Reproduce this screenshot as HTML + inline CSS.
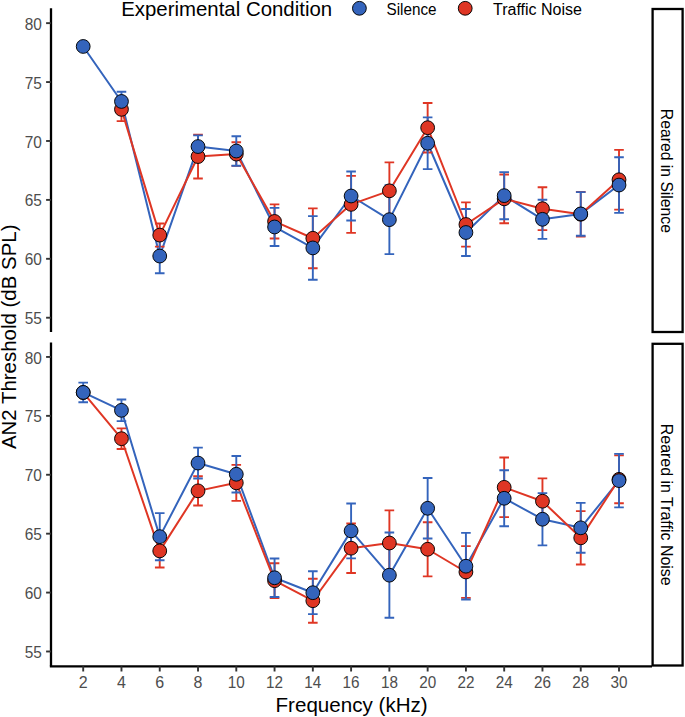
<!DOCTYPE html>
<html><head><meta charset="utf-8"><title>AN2 Threshold</title>
<style>
html,body{margin:0;padding:0;background:#fff;}
body{width:685px;height:717px;overflow:hidden;}
svg{display:block;font-family:"Liberation Sans",sans-serif;}
</style></head><body>
<svg width="685" height="717" viewBox="0 0 685 717">
<rect width="685" height="717" fill="#fff"/>
<g id="panel-top">
<polyline points="83.20,46.47 121.47,101.45 159.74,256.05 198.02,146.55 236.29,151.03 274.56,226.97 312.83,247.93 351.10,196.00 389.38,219.67 427.65,143.25 465.92,232.51 504.19,195.65 542.46,219.32 580.74,213.90 619.01,185.05" fill="none" stroke="#3464bc" stroke-width="2.0" stroke-linejoin="round"/>
<polyline points="121.47,109.34 159.74,235.10 198.02,156.56 236.29,154.09 274.56,221.44 312.83,238.27 351.10,204.36 389.38,190.82 427.65,127.71 465.92,224.50 504.19,198.83 542.46,208.72 580.74,214.25 619.01,179.76" fill="none" stroke="#df3624" stroke-width="2.0" stroke-linejoin="round"/>
<path d="M116.67,97.57H126.27M121.47,97.57V121.12M116.67,121.12H126.27" fill="none" stroke="#df3624" stroke-width="1.9"/>
<path d="M116.67,91.68H126.27M121.47,91.68V111.23M116.67,111.23H126.27" fill="none" stroke="#3464bc" stroke-width="1.9"/>
<path d="M154.94,223.56H164.54M159.74,223.56V246.63M154.94,246.63H164.54" fill="none" stroke="#df3624" stroke-width="1.9"/>
<path d="M154.94,238.86H164.54M159.74,238.86V273.25M154.94,273.25H164.54" fill="none" stroke="#3464bc" stroke-width="1.9"/>
<path d="M193.22,134.66H202.82M198.02,134.66V178.46M193.22,178.46H202.82" fill="none" stroke="#df3624" stroke-width="1.9"/>
<path d="M193.22,135.37H202.82M198.02,135.37V157.74M193.22,157.74H202.82" fill="none" stroke="#3464bc" stroke-width="1.9"/>
<path d="M231.49,142.31H241.09M236.29,142.31V165.86M231.49,165.86H241.09" fill="none" stroke="#df3624" stroke-width="1.9"/>
<path d="M231.49,136.31H241.09M236.29,136.31V165.74M231.49,165.74H241.09" fill="none" stroke="#3464bc" stroke-width="1.9"/>
<path d="M269.76,204.36H279.36M274.56,204.36V238.51M269.76,238.51H279.36" fill="none" stroke="#df3624" stroke-width="1.9"/>
<path d="M269.76,207.90H279.36M274.56,207.90V246.05M269.76,246.05H279.36" fill="none" stroke="#3464bc" stroke-width="1.9"/>
<path d="M308.03,208.37H317.63M312.83,208.37V268.18M308.03,268.18H317.63" fill="none" stroke="#df3624" stroke-width="1.9"/>
<path d="M308.03,216.14H317.63M312.83,216.14V279.72M308.03,279.72H317.63" fill="none" stroke="#3464bc" stroke-width="1.9"/>
<path d="M346.30,175.87H355.90M351.10,175.87V232.86M346.30,232.86H355.90" fill="none" stroke="#df3624" stroke-width="1.9"/>
<path d="M346.30,171.51H355.90M351.10,171.51V220.50M346.30,220.50H355.90" fill="none" stroke="#3464bc" stroke-width="1.9"/>
<path d="M384.58,162.33H394.18M389.38,162.33V219.32M384.58,219.32H394.18" fill="none" stroke="#df3624" stroke-width="1.9"/>
<path d="M384.58,185.17H394.18M389.38,185.17V254.17M384.58,254.17H394.18" fill="none" stroke="#3464bc" stroke-width="1.9"/>
<path d="M422.85,102.99H432.45M427.65,102.99V152.44M422.85,152.44H432.45" fill="none" stroke="#df3624" stroke-width="1.9"/>
<path d="M422.85,117.35H432.45M427.65,117.35V169.16M422.85,169.16H432.45" fill="none" stroke="#3464bc" stroke-width="1.9"/>
<path d="M461.12,202.36H470.72M465.92,202.36V246.63M461.12,246.63H470.72" fill="none" stroke="#df3624" stroke-width="1.9"/>
<path d="M461.12,208.96H470.72M465.92,208.96V256.05M461.12,256.05H470.72" fill="none" stroke="#3464bc" stroke-width="1.9"/>
<path d="M499.39,174.46H508.99M504.19,174.46V223.20M499.39,223.20H508.99" fill="none" stroke="#df3624" stroke-width="1.9"/>
<path d="M499.39,172.10H508.99M504.19,172.10V219.20M499.39,219.20H508.99" fill="none" stroke="#3464bc" stroke-width="1.9"/>
<path d="M537.66,187.29H547.26M542.46,187.29V230.15M537.66,230.15H547.26" fill="none" stroke="#df3624" stroke-width="1.9"/>
<path d="M537.66,199.77H547.26M542.46,199.77V238.86M537.66,238.86H547.26" fill="none" stroke="#3464bc" stroke-width="1.9"/>
<path d="M575.94,191.88H585.54M580.74,191.88V236.63M575.94,236.63H585.54" fill="none" stroke="#df3624" stroke-width="1.9"/>
<path d="M575.94,192.12H585.54M580.74,192.12V235.68M575.94,235.68H585.54" fill="none" stroke="#3464bc" stroke-width="1.9"/>
<path d="M614.21,149.85H623.81M619.01,149.85V209.66M614.21,209.66H623.81" fill="none" stroke="#df3624" stroke-width="1.9"/>
<path d="M614.21,157.27H623.81M619.01,157.27V212.84M614.21,212.84H623.81" fill="none" stroke="#3464bc" stroke-width="1.9"/>
<circle cx="83.20" cy="46.47" r="6.9" fill="#3464bc" stroke="#000" stroke-width="0.95"/>
<circle cx="121.47" cy="109.34" r="6.9" fill="#df3624" stroke="#000" stroke-width="0.95"/>
<circle cx="121.47" cy="101.45" r="6.9" fill="#3464bc" stroke="#000" stroke-width="0.95"/>
<circle cx="159.74" cy="235.10" r="6.9" fill="#df3624" stroke="#000" stroke-width="0.95"/>
<circle cx="159.74" cy="256.05" r="6.9" fill="#3464bc" stroke="#000" stroke-width="0.95"/>
<circle cx="198.02" cy="156.56" r="6.9" fill="#df3624" stroke="#000" stroke-width="0.95"/>
<circle cx="198.02" cy="146.55" r="6.9" fill="#3464bc" stroke="#000" stroke-width="0.95"/>
<circle cx="236.29" cy="154.09" r="6.9" fill="#df3624" stroke="#000" stroke-width="0.95"/>
<circle cx="236.29" cy="151.03" r="6.9" fill="#3464bc" stroke="#000" stroke-width="0.95"/>
<circle cx="274.56" cy="221.44" r="6.9" fill="#df3624" stroke="#000" stroke-width="0.95"/>
<circle cx="274.56" cy="226.97" r="6.9" fill="#3464bc" stroke="#000" stroke-width="0.95"/>
<circle cx="312.83" cy="238.27" r="6.9" fill="#df3624" stroke="#000" stroke-width="0.95"/>
<circle cx="312.83" cy="247.93" r="6.9" fill="#3464bc" stroke="#000" stroke-width="0.95"/>
<circle cx="351.10" cy="204.36" r="6.9" fill="#df3624" stroke="#000" stroke-width="0.95"/>
<circle cx="351.10" cy="196.00" r="6.9" fill="#3464bc" stroke="#000" stroke-width="0.95"/>
<circle cx="389.38" cy="190.82" r="6.9" fill="#df3624" stroke="#000" stroke-width="0.95"/>
<circle cx="389.38" cy="219.67" r="6.9" fill="#3464bc" stroke="#000" stroke-width="0.95"/>
<circle cx="427.65" cy="127.71" r="6.9" fill="#df3624" stroke="#000" stroke-width="0.95"/>
<circle cx="427.65" cy="143.25" r="6.9" fill="#3464bc" stroke="#000" stroke-width="0.95"/>
<circle cx="465.92" cy="224.50" r="6.9" fill="#df3624" stroke="#000" stroke-width="0.95"/>
<circle cx="465.92" cy="232.51" r="6.9" fill="#3464bc" stroke="#000" stroke-width="0.95"/>
<circle cx="504.19" cy="198.83" r="6.9" fill="#df3624" stroke="#000" stroke-width="0.95"/>
<circle cx="504.19" cy="195.65" r="6.9" fill="#3464bc" stroke="#000" stroke-width="0.95"/>
<circle cx="542.46" cy="208.72" r="6.9" fill="#df3624" stroke="#000" stroke-width="0.95"/>
<circle cx="542.46" cy="219.32" r="6.9" fill="#3464bc" stroke="#000" stroke-width="0.95"/>
<circle cx="580.74" cy="214.25" r="6.9" fill="#df3624" stroke="#000" stroke-width="0.95"/>
<circle cx="580.74" cy="213.90" r="6.9" fill="#3464bc" stroke="#000" stroke-width="0.95"/>
<circle cx="619.01" cy="179.76" r="6.9" fill="#df3624" stroke="#000" stroke-width="0.95"/>
<circle cx="619.01" cy="185.05" r="6.9" fill="#3464bc" stroke="#000" stroke-width="0.95"/>
</g>
<g id="panel-bottom">
<polyline points="83.20,392.42 121.47,410.32 159.74,536.66 198.02,463.07 236.29,474.26 274.56,577.76 312.83,592.71 351.10,530.89 389.38,575.17 427.65,508.29 465.92,566.22 504.19,498.28 542.46,519.24 580.74,527.83 619.01,480.62" fill="none" stroke="#3464bc" stroke-width="2.0" stroke-linejoin="round"/>
<polyline points="83.20,392.54 121.47,438.70 159.74,550.91 198.02,490.86 236.29,482.85 274.56,580.70 312.83,600.72 351.10,548.20 389.38,543.02 427.65,549.26 465.92,571.99 504.19,487.33 542.46,501.22 580.74,537.84 619.01,479.32" fill="none" stroke="#df3624" stroke-width="2.0" stroke-linejoin="round"/>
<path d="M78.40,382.65H88.00M83.20,382.65V402.20M78.40,402.20H88.00" fill="none" stroke="#3464bc" stroke-width="1.9"/>
<path d="M116.67,428.34H126.27M121.47,428.34V449.06M116.67,449.06H126.27" fill="none" stroke="#df3624" stroke-width="1.9"/>
<path d="M116.67,399.49H126.27M121.47,399.49V421.15M116.67,421.15H126.27" fill="none" stroke="#3464bc" stroke-width="1.9"/>
<path d="M154.94,534.31H164.54M159.74,534.31V567.51M154.94,567.51H164.54" fill="none" stroke="#df3624" stroke-width="1.9"/>
<path d="M154.94,513.11H164.54M159.74,513.11V560.21M154.94,560.21H164.54" fill="none" stroke="#3464bc" stroke-width="1.9"/>
<path d="M193.22,476.26H202.82M198.02,476.26V505.46M193.22,505.46H202.82" fill="none" stroke="#df3624" stroke-width="1.9"/>
<path d="M193.22,447.65H202.82M198.02,447.65V478.50M193.22,478.50H202.82" fill="none" stroke="#3464bc" stroke-width="1.9"/>
<path d="M231.49,464.84H241.09M236.29,464.84V500.87M231.49,500.87H241.09" fill="none" stroke="#df3624" stroke-width="1.9"/>
<path d="M231.49,456.01H241.09M236.29,456.01V492.51M231.49,492.51H241.09" fill="none" stroke="#3464bc" stroke-width="1.9"/>
<path d="M269.76,563.27H279.36M274.56,563.27V598.13M269.76,598.13H279.36" fill="none" stroke="#df3624" stroke-width="1.9"/>
<path d="M269.76,558.56H279.36M274.56,558.56V596.95M269.76,596.95H279.36" fill="none" stroke="#3464bc" stroke-width="1.9"/>
<path d="M308.03,578.70H317.63M312.83,578.70V622.73M308.03,622.73H317.63" fill="none" stroke="#df3624" stroke-width="1.9"/>
<path d="M308.03,571.28H317.63M312.83,571.28V614.14M308.03,614.14H317.63" fill="none" stroke="#3464bc" stroke-width="1.9"/>
<path d="M346.30,523.47H355.90M351.10,523.47V572.93M346.30,572.93H355.90" fill="none" stroke="#df3624" stroke-width="1.9"/>
<path d="M346.30,503.46H355.90M351.10,503.46V558.33M346.30,558.33H355.90" fill="none" stroke="#3464bc" stroke-width="1.9"/>
<path d="M384.58,510.41H394.18M389.38,510.41V575.64M384.58,575.64H394.18" fill="none" stroke="#df3624" stroke-width="1.9"/>
<path d="M384.58,532.54H394.18M389.38,532.54V617.79M384.58,617.79H394.18" fill="none" stroke="#3464bc" stroke-width="1.9"/>
<path d="M422.85,522.18H432.45M427.65,522.18V576.34M422.85,576.34H432.45" fill="none" stroke="#df3624" stroke-width="1.9"/>
<path d="M422.85,478.03H432.45M427.65,478.03V538.55M422.85,538.55H432.45" fill="none" stroke="#3464bc" stroke-width="1.9"/>
<path d="M461.12,546.08H470.72M465.92,546.08V597.89M461.12,597.89H470.72" fill="none" stroke="#df3624" stroke-width="1.9"/>
<path d="M461.12,532.89H470.72M465.92,532.89V599.54M461.12,599.54H470.72" fill="none" stroke="#3464bc" stroke-width="1.9"/>
<path d="M499.39,457.54H508.99M504.19,457.54V517.12M499.39,517.12H508.99" fill="none" stroke="#df3624" stroke-width="1.9"/>
<path d="M499.39,470.25H508.99M504.19,470.25V526.30M499.39,526.30H508.99" fill="none" stroke="#3464bc" stroke-width="1.9"/>
<path d="M537.66,478.38H547.26M542.46,478.38V524.06M537.66,524.06H547.26" fill="none" stroke="#df3624" stroke-width="1.9"/>
<path d="M537.66,493.10H547.26M542.46,493.10V545.38M537.66,545.38H547.26" fill="none" stroke="#3464bc" stroke-width="1.9"/>
<path d="M575.94,511.11H585.54M580.74,511.11V564.57M575.94,564.57H585.54" fill="none" stroke="#df3624" stroke-width="1.9"/>
<path d="M575.94,502.87H585.54M580.74,502.87V552.79M575.94,552.79H585.54" fill="none" stroke="#3464bc" stroke-width="1.9"/>
<path d="M614.21,455.42H623.81M619.01,455.42V503.22M614.21,503.22H623.81" fill="none" stroke="#df3624" stroke-width="1.9"/>
<path d="M614.21,453.89H623.81M619.01,453.89V507.34M614.21,507.34H623.81" fill="none" stroke="#3464bc" stroke-width="1.9"/>
<circle cx="83.20" cy="392.54" r="6.9" fill="#df3624" stroke="#000" stroke-width="0.95"/>
<circle cx="83.20" cy="392.42" r="6.9" fill="#3464bc" stroke="#000" stroke-width="0.95"/>
<circle cx="121.47" cy="438.70" r="6.9" fill="#df3624" stroke="#000" stroke-width="0.95"/>
<circle cx="121.47" cy="410.32" r="6.9" fill="#3464bc" stroke="#000" stroke-width="0.95"/>
<circle cx="159.74" cy="550.91" r="6.9" fill="#df3624" stroke="#000" stroke-width="0.95"/>
<circle cx="159.74" cy="536.66" r="6.9" fill="#3464bc" stroke="#000" stroke-width="0.95"/>
<circle cx="198.02" cy="490.86" r="6.9" fill="#df3624" stroke="#000" stroke-width="0.95"/>
<circle cx="198.02" cy="463.07" r="6.9" fill="#3464bc" stroke="#000" stroke-width="0.95"/>
<circle cx="236.29" cy="482.85" r="6.9" fill="#df3624" stroke="#000" stroke-width="0.95"/>
<circle cx="236.29" cy="474.26" r="6.9" fill="#3464bc" stroke="#000" stroke-width="0.95"/>
<circle cx="274.56" cy="580.70" r="6.9" fill="#df3624" stroke="#000" stroke-width="0.95"/>
<circle cx="274.56" cy="577.76" r="6.9" fill="#3464bc" stroke="#000" stroke-width="0.95"/>
<circle cx="312.83" cy="600.72" r="6.9" fill="#df3624" stroke="#000" stroke-width="0.95"/>
<circle cx="312.83" cy="592.71" r="6.9" fill="#3464bc" stroke="#000" stroke-width="0.95"/>
<circle cx="351.10" cy="548.20" r="6.9" fill="#df3624" stroke="#000" stroke-width="0.95"/>
<circle cx="351.10" cy="530.89" r="6.9" fill="#3464bc" stroke="#000" stroke-width="0.95"/>
<circle cx="389.38" cy="543.02" r="6.9" fill="#df3624" stroke="#000" stroke-width="0.95"/>
<circle cx="389.38" cy="575.17" r="6.9" fill="#3464bc" stroke="#000" stroke-width="0.95"/>
<circle cx="427.65" cy="549.26" r="6.9" fill="#df3624" stroke="#000" stroke-width="0.95"/>
<circle cx="427.65" cy="508.29" r="6.9" fill="#3464bc" stroke="#000" stroke-width="0.95"/>
<circle cx="465.92" cy="571.99" r="6.9" fill="#df3624" stroke="#000" stroke-width="0.95"/>
<circle cx="465.92" cy="566.22" r="6.9" fill="#3464bc" stroke="#000" stroke-width="0.95"/>
<circle cx="504.19" cy="487.33" r="6.9" fill="#df3624" stroke="#000" stroke-width="0.95"/>
<circle cx="504.19" cy="498.28" r="6.9" fill="#3464bc" stroke="#000" stroke-width="0.95"/>
<circle cx="542.46" cy="501.22" r="6.9" fill="#df3624" stroke="#000" stroke-width="0.95"/>
<circle cx="542.46" cy="519.24" r="6.9" fill="#3464bc" stroke="#000" stroke-width="0.95"/>
<circle cx="580.74" cy="537.84" r="6.9" fill="#df3624" stroke="#000" stroke-width="0.95"/>
<circle cx="580.74" cy="527.83" r="6.9" fill="#3464bc" stroke="#000" stroke-width="0.95"/>
<circle cx="619.01" cy="479.32" r="6.9" fill="#df3624" stroke="#000" stroke-width="0.95"/>
<circle cx="619.01" cy="480.62" r="6.9" fill="#3464bc" stroke="#000" stroke-width="0.95"/>
</g>
<g id="axes">
<line x1="51.0" y1="8.2" x2="51.0" y2="332.0" stroke="#000" stroke-width="2.3"/>
<line x1="46.1" y1="317.72" x2="51.0" y2="317.72" stroke="#333" stroke-width="1.9"/>
<text transform="translate(41.90,323.80) scale(0.965,1)" text-anchor="end" font-size="16" fill="#4d4d4d">55</text>
<line x1="46.1" y1="258.81" x2="51.0" y2="258.81" stroke="#333" stroke-width="1.9"/>
<text transform="translate(41.90,264.80) scale(0.965,1)" text-anchor="end" font-size="16" fill="#4d4d4d">60</text>
<line x1="46.1" y1="199.90" x2="51.0" y2="199.90" stroke="#333" stroke-width="1.9"/>
<text transform="translate(41.90,205.80) scale(0.965,1)" text-anchor="end" font-size="16" fill="#4d4d4d">65</text>
<line x1="46.1" y1="140.98" x2="51.0" y2="140.98" stroke="#333" stroke-width="1.9"/>
<text transform="translate(41.90,147.80) scale(0.965,1)" text-anchor="end" font-size="16" fill="#4d4d4d">70</text>
<line x1="46.1" y1="82.06" x2="51.0" y2="82.06" stroke="#333" stroke-width="1.9"/>
<text transform="translate(41.90,88.80) scale(0.965,1)" text-anchor="end" font-size="16" fill="#4d4d4d">75</text>
<line x1="46.1" y1="23.15" x2="51.0" y2="23.15" stroke="#333" stroke-width="1.9"/>
<text transform="translate(41.90,29.80) scale(0.965,1)" text-anchor="end" font-size="16" fill="#4d4d4d">80</text>
<line x1="51.0" y1="342.5" x2="51.0" y2="666.3" stroke="#000" stroke-width="2.3"/>
<line x1="46.1" y1="651.49" x2="51.0" y2="651.49" stroke="#333" stroke-width="1.9"/>
<text transform="translate(41.90,657.80) scale(0.965,1)" text-anchor="end" font-size="16" fill="#4d4d4d">55</text>
<line x1="46.1" y1="592.58" x2="51.0" y2="592.58" stroke="#333" stroke-width="1.9"/>
<text transform="translate(41.90,598.80) scale(0.965,1)" text-anchor="end" font-size="16" fill="#4d4d4d">60</text>
<line x1="46.1" y1="533.67" x2="51.0" y2="533.67" stroke="#333" stroke-width="1.9"/>
<text transform="translate(41.90,539.80) scale(0.965,1)" text-anchor="end" font-size="16" fill="#4d4d4d">65</text>
<line x1="46.1" y1="474.76" x2="51.0" y2="474.76" stroke="#333" stroke-width="1.9"/>
<text transform="translate(41.90,480.80) scale(0.965,1)" text-anchor="end" font-size="16" fill="#4d4d4d">70</text>
<line x1="46.1" y1="415.85" x2="51.0" y2="415.85" stroke="#333" stroke-width="1.9"/>
<text transform="translate(41.90,421.80) scale(0.965,1)" text-anchor="end" font-size="16" fill="#4d4d4d">75</text>
<line x1="46.1" y1="356.94" x2="51.0" y2="356.94" stroke="#333" stroke-width="1.9"/>
<text transform="translate(41.90,363.80) scale(0.965,1)" text-anchor="end" font-size="16" fill="#4d4d4d">80</text>
<line x1="49.85" y1="666.4499999999999" x2="652.0" y2="666.4499999999999" stroke="#000" stroke-width="2.3"/>
<line x1="83.20" y1="666.3" x2="83.20" y2="671.4999999999999" stroke="#333" stroke-width="1.9"/>
<text transform="translate(83.20,688.0) scale(1.0,1)" text-anchor="middle" font-size="16" fill="#4d4d4d">2</text>
<line x1="121.47" y1="666.3" x2="121.47" y2="671.4999999999999" stroke="#333" stroke-width="1.9"/>
<text transform="translate(121.47,688.0) scale(1.0,1)" text-anchor="middle" font-size="16" fill="#4d4d4d">4</text>
<line x1="159.74" y1="666.3" x2="159.74" y2="671.4999999999999" stroke="#333" stroke-width="1.9"/>
<text transform="translate(159.74,688.0) scale(1.0,1)" text-anchor="middle" font-size="16" fill="#4d4d4d">6</text>
<line x1="198.02" y1="666.3" x2="198.02" y2="671.4999999999999" stroke="#333" stroke-width="1.9"/>
<text transform="translate(198.02,688.0) scale(1.0,1)" text-anchor="middle" font-size="16" fill="#4d4d4d">8</text>
<line x1="236.29" y1="666.3" x2="236.29" y2="671.4999999999999" stroke="#333" stroke-width="1.9"/>
<text transform="translate(236.29,688.0) scale(0.955,1)" text-anchor="middle" font-size="16" fill="#4d4d4d">10</text>
<line x1="274.56" y1="666.3" x2="274.56" y2="671.4999999999999" stroke="#333" stroke-width="1.9"/>
<text transform="translate(274.56,688.0) scale(0.955,1)" text-anchor="middle" font-size="16" fill="#4d4d4d">12</text>
<line x1="312.83" y1="666.3" x2="312.83" y2="671.4999999999999" stroke="#333" stroke-width="1.9"/>
<text transform="translate(312.83,688.0) scale(0.955,1)" text-anchor="middle" font-size="16" fill="#4d4d4d">14</text>
<line x1="351.10" y1="666.3" x2="351.10" y2="671.4999999999999" stroke="#333" stroke-width="1.9"/>
<text transform="translate(351.10,688.0) scale(0.955,1)" text-anchor="middle" font-size="16" fill="#4d4d4d">16</text>
<line x1="389.38" y1="666.3" x2="389.38" y2="671.4999999999999" stroke="#333" stroke-width="1.9"/>
<text transform="translate(389.38,688.0) scale(0.955,1)" text-anchor="middle" font-size="16" fill="#4d4d4d">18</text>
<line x1="427.65" y1="666.3" x2="427.65" y2="671.4999999999999" stroke="#333" stroke-width="1.9"/>
<text transform="translate(427.65,688.0) scale(0.955,1)" text-anchor="middle" font-size="16" fill="#4d4d4d">20</text>
<line x1="465.92" y1="666.3" x2="465.92" y2="671.4999999999999" stroke="#333" stroke-width="1.9"/>
<text transform="translate(465.92,688.0) scale(0.955,1)" text-anchor="middle" font-size="16" fill="#4d4d4d">22</text>
<line x1="504.19" y1="666.3" x2="504.19" y2="671.4999999999999" stroke="#333" stroke-width="1.9"/>
<text transform="translate(504.19,688.0) scale(0.955,1)" text-anchor="middle" font-size="16" fill="#4d4d4d">24</text>
<line x1="542.46" y1="666.3" x2="542.46" y2="671.4999999999999" stroke="#333" stroke-width="1.9"/>
<text transform="translate(542.46,688.0) scale(0.955,1)" text-anchor="middle" font-size="16" fill="#4d4d4d">26</text>
<line x1="580.74" y1="666.3" x2="580.74" y2="671.4999999999999" stroke="#333" stroke-width="1.9"/>
<text transform="translate(580.74,688.0) scale(0.955,1)" text-anchor="middle" font-size="16" fill="#4d4d4d">28</text>
<line x1="619.01" y1="666.3" x2="619.01" y2="671.4999999999999" stroke="#333" stroke-width="1.9"/>
<text transform="translate(619.01,688.0) scale(0.955,1)" text-anchor="middle" font-size="16" fill="#4d4d4d">30</text>
</g>
<g id="strips">
<rect x="652.6" y="9.0" width="30.0" height="323.00" fill="#fff" stroke="#000" stroke-width="2.3"/>
<text transform="translate(660.50,170.90) rotate(90) scale(0.983,1)" text-anchor="middle" font-size="16" fill="#000">Reared in Silence</text>
<rect x="652.6" y="343.8" width="30.0" height="321.70" fill="#fff" stroke="#000" stroke-width="2.3"/>
<text transform="translate(660.50,504.70) rotate(90) scale(0.997,1)" text-anchor="middle" font-size="16" fill="#000">Reared in Traffic Noise</text>
</g>
<g id="legend">
<text transform="translate(121.2,16.4) scale(1.0055,1)" font-size="20.3" fill="#000">Experimental Condition</text>
<circle cx="359.4" cy="8.3" r="6.9" fill="#3464bc" stroke="#000" stroke-width="0.95"/>
<text transform="translate(386.5,14.8) scale(0.955,1)" font-size="16" fill="#000">Silence</text>
<circle cx="465.2" cy="8.3" r="6.9" fill="#df3624" stroke="#000" stroke-width="0.95"/>
<text transform="translate(493.0,14.9) scale(1.0,1)" font-size="16" fill="#000">Traffic Noise</text>
</g>
<g id="titles">
<text transform="translate(351.60,711.7) scale(1.02,1)" text-anchor="middle" font-size="20.2" fill="#000">Frequency (kHz)</text>
<text transform="translate(15.8,336.85) rotate(-90) scale(1.0125,1)" text-anchor="middle" font-size="20.2" fill="#000">AN2 Threshold (dB SPL)</text>
</g>
</svg>
</body></html>
